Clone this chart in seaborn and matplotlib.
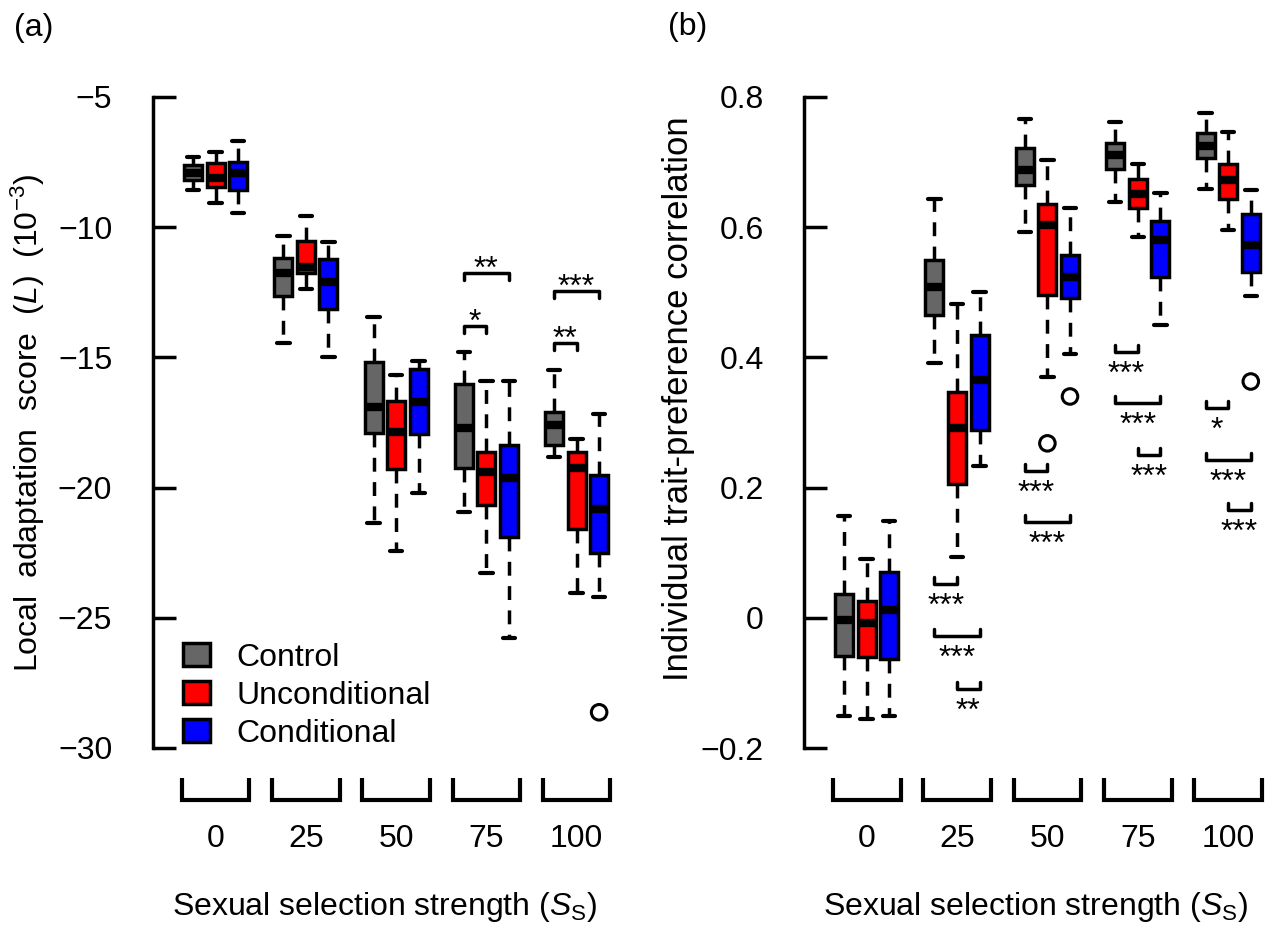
import numpy as np
import pandas as pd
import matplotlib
matplotlib.use("Agg")
import matplotlib.pyplot as plt
import matplotlib.transforms as mtransforms
from matplotlib.patches import Patch
from matplotlib import font_manager
import seaborn as sns

# ---------------- data ----------------
groups = ["0", "25", "50", "75", "100"]
treatments = ["Control", "Unconditional", "Conditional"]
colors = ["#666666", "#FF0000", "#0000FF"]

# five-number summaries [lower whisker, Q1, median, Q3, upper whisker], one per group
la_control = [[-8.57, -8.19, -7.92, -7.61, -7.30],
              [-14.46, -12.66, -11.77, -11.17, -10.33],
              [-21.37, -17.92, -16.89, -15.16, -13.46],
              [-20.95, -19.26, -17.72, -16.02, -14.78],
              [-18.81, -18.36, -17.60, -17.08, -15.48]]
la_uncond = [[-9.07, -8.46, -8.10, -7.55, -7.11],
             [-12.38, -11.75, -11.52, -10.53, -9.57],
             [-22.42, -19.29, -17.85, -16.66, -15.68],
             [-23.27, -20.67, -19.39, -18.62, -15.89],
             [-24.03, -21.60, -19.26, -18.62, -18.15]]
la_cond = [[-9.44, -8.57, -7.93, -7.48, -6.68],
           [-15.00, -13.13, -12.09, -11.23, -10.58],
           [-20.22, -17.95, -16.70, -15.46, -15.14],
           [-25.76, -21.88, -19.64, -18.36, -15.89],
           [-24.19, -22.52, -20.84, -19.52, -17.17]]
la_out_group = [4]
la_out_treat = [2]
la_out_value = [-28.63]

tc_control = [[-0.151, -0.058, -0.004, 0.036, 0.156],
              [0.391, 0.465, 0.508, 0.549, 0.643],
              [0.593, 0.665, 0.688, 0.721, 0.766],
              [0.638, 0.690, 0.711, 0.730, 0.761],
              [0.658, 0.707, 0.725, 0.744, 0.775]]
tc_uncond = [[-0.156, -0.060, -0.008, 0.026, 0.091],
             [0.093, 0.206, 0.292, 0.347, 0.482],
             [0.370, 0.496, 0.603, 0.636, 0.703],
             [0.585, 0.630, 0.651, 0.674, 0.697],
             [0.595, 0.644, 0.672, 0.697, 0.746]]
tc_cond = [[-0.151, -0.064, 0.012, 0.071, 0.149],
           [0.233, 0.288, 0.366, 0.434, 0.501],
           [0.405, 0.491, 0.524, 0.557, 0.629],
           [0.450, 0.523, 0.581, 0.610, 0.653],
           [0.494, 0.531, 0.573, 0.621, 0.657]]
tc_out_group = [2, 2, 4]
tc_out_treat = [1, 2, 2]
tc_out_value = [0.268, 0.340, 0.363]

la_ticks = [-30, -25, -20, -15, -10, -5]
la_ticklabels = ["\u221230", "\u221225", "\u221220", "\u221215", "\u221210", "\u22125"]
tc_ticks = [-0.2, 0.0, 0.2, 0.4, 0.6, 0.8]
tc_ticklabels = ["\u22120.2", "0", "0.2", "0.4", "0.6", "0.8"]

# significance annotations: group index, treatment pair, bracket level, label
sig_a_group = [3, 3, 4, 4]
sig_a_pair = [(0, 2), (0, 1), (0, 2), (0, 1)]
sig_a_level = [-11.77, -13.79, -12.45, -14.46]
sig_a_label = ["**", "*", "***", "**"]

sig_b_group = [1, 1, 1, 2, 2, 3, 3, 3, 4, 4, 4]
sig_b_pair = [(0, 1), (0, 2), (1, 2), (0, 1), (0, 2), (0, 1), (0, 2), (1, 2),
              (0, 1), (0, 2), (1, 2)]
sig_b_level = [0.0515, -0.0284, -0.1089, 0.2256, 0.1472, 0.4085, 0.330, 0.2497,
               0.323, 0.243, 0.1652]
sig_b_label = ["***", "***", "**", "***", "***", "***", "***", "***", "*", "***", "***"]

# ---------------- style ----------------
sns.set_style("white")
plt.rcParams["font.family"] = ["Liberation Sans", "DejaVu Sans"]
plt.rcParams["mathtext.fontset"] = "custom"
plt.rcParams["mathtext.rm"] = "Liberation Sans"
plt.rcParams["mathtext.it"] = "Liberation Sans:italic"
plt.rcParams["mathtext.bf"] = "Liberation Sans:bold"
for key in ["text.color", "axes.labelcolor", "xtick.color", "ytick.color"]:
    plt.rcParams[key] = "black"

names = {f.name for f in font_manager.fontManager.ttflist}
narrow = "Liberation Sans Narrow" if "Liberation Sans Narrow" in names else None

FS = 23
LW = 2.5
W, H = 1275, 934
fig = plt.figure(figsize=(W / 100, H / 100), dpi=100)


def add_axes_px(left, top, right, bottom):
    return fig.add_axes([left / W, 1 - bottom / H, (right - left) / W, (bottom - top) / H])


def pos_of(g, t):
    return 4 * g + t


def build_df(ctrl, unc, cond):
    rows = []
    for t, summ in enumerate([ctrl, unc, cond]):
        for g, five in enumerate(summ):
            for v in five:
                rows.append({"pos": pos_of(g, t), "value": v, "treatment": treatments[t]})
    return pd.DataFrame(rows)


def draw_panel(ax, df, out_g, out_t, out_v, xlim, ylim, ticks, ticklabels,
               sig_group, sig_pair, sig_level, sig_label, above):
    sns.boxplot(data=df, x="pos", y="value", hue="treatment", hue_order=treatments,
                palette=colors, native_scale=True, dodge=False, width=0.8,
                whis=(0, 100), saturation=1, linewidth=LW, linecolor="black",
                showfliers=False, legend=False, ax=ax, capwidths=0.55,
                medianprops=dict(color="black", linewidth=6.0, solid_capstyle="butt"),
                whiskerprops=dict(color="black", linewidth=LW, linestyle=(0, (4.0, 3.0))),
                capprops=dict(color="black", linewidth=3.0),
                boxprops=dict(edgecolor="black", linewidth=LW))
    ox = [pos_of(g, t) for g, t in zip(out_g, out_t)]
    sns.scatterplot(x=ox, y=out_v, ax=ax, marker="o", s=125, facecolor="none",
                    edgecolor="black", linewidth=2.2, zorder=5)
    ax.set_xlim(*xlim)
    ax.set_ylim(*ylim)
    sns.despine(ax=ax, bottom=True)
    ax.spines["left"].set_bounds(ticks[0], ticks[-1])
    ax.spines["left"].set_linewidth(LW)
    ax.spines["left"].set_color("black")
    ax.set_yticks(ticks)
    ax.set_yticklabels(ticklabels)
    ax.tick_params(axis="y", direction="in", length=16.5, width=LW, pad=29,
                   labelsize=FS, color="black", left=True)
    ax.set_xticks([pos_of(g, 1) for g in range(len(groups))])
    ax.set_xticklabels(groups)
    ax.tick_params(axis="x", length=0, pad=32, labelsize=FS)
    ax.set_xlabel("")
    ax.set_ylabel("")

    # group brackets along the x axis
    trans = mtransforms.blended_transform_factory(ax.transData, ax.transAxes)
    for g in range(len(groups)):
        x0, x1 = pos_of(g, 0) - 0.5, pos_of(g, 2) + 0.5
        ax.plot([x0, x0, x1, x1], [0.001, -0.0285, -0.0285, 0.001], transform=trans,
                color="black", lw=3.0, clip_on=False, solid_joinstyle="miter",
                solid_capstyle="butt")

    # significance brackets
    ax_h_px = ax.get_position().height * H
    d = 7 * (ylim[1] - ylim[0]) / ax_h_px
    sign = -1 if above else 1
    toff = 12 if above else -14
    ttrans = mtransforms.offset_copy(ax.transData, fig=fig, x=0, y=toff - 17, units="dots")
    for g, (t0, t1), lev, lab in zip(sig_group, sig_pair, sig_level, sig_label):
        x0, x1 = pos_of(g, t0), pos_of(g, t1)
        ax.plot([x0, x0, x1, x1], [lev + sign * d, lev, lev, lev + sign * d],
                color="black", lw=LW, solid_joinstyle="round", zorder=4)
        ax.text((x0 + x1) / 2, lev, lab, transform=ttrans, ha="center", va="baseline",
                fontsize=FS)


xlabel = "Sexual selection strength ($\\mathit{S}_{\\mathrm{S}}$)"

# panel (a)
ax_a = add_axes_px(152.5, 65.75, 616.5, 779.2)
df_a = build_df(la_control, la_uncond, la_cond)
draw_panel(ax_a, df_a, la_out_group, la_out_treat, la_out_value, (-1.8, 18.77),
           (-31.2, -3.8), la_ticks, la_ticklabels, sig_a_group, sig_a_pair,
           sig_a_level, sig_a_label, above=True)
ax_a.set_ylabel("Local  adaptation  score  ($\\mathit{L}$)  (10$^{\\mathrm{\u22123}}$)",
                fontsize=FS)
ax_a.yaxis.label.set_va("center")
ax_a.yaxis.set_label_coords(-0.269, 0.499)
ax_a.set_xlabel(xlabel, fontsize=FS)
ax_a.xaxis.label.set_va("center")
ax_a.xaxis.set_label_coords(0.5, -0.179)
handles = [Patch(facecolor=c, edgecolor="black", linewidth=LW) for c in colors]
ax_a.legend(handles, treatments, loc="lower left", bbox_to_anchor=(0.0647, 0.043),
            frameon=False, borderpad=0, borderaxespad=0, handlelength=0.85,
            handleheight=0.72, handletextpad=0.85, labelspacing=0.25, fontsize=FS)

# panel (b)
ax_b = add_axes_px(804, 65.75, 1268.2, 779.2)
df_b = build_df(tc_control, tc_uncond, tc_cond)
draw_panel(ax_b, df_b, tc_out_group, tc_out_treat, tc_out_value, (-1.77, 18.77),
           (-0.2479, 0.848), tc_ticks, tc_ticklabels, sig_b_group, sig_b_pair,
           sig_b_level, sig_b_label, above=False)
if narrow:
    ax_b.set_ylabel("Individual trait-preference correlation", fontsize=28,
                    family=[narrow, "DejaVu Sans"])
else:
    ax_b.set_ylabel("Individual trait-preference correlation", fontsize=25)
ax_b.yaxis.label.set_va("center")
ax_b.yaxis.set_label_coords(-0.2714, 0.534)
ax_b.set_xlabel(xlabel, fontsize=FS)
ax_b.xaxis.label.set_va("center")
ax_b.xaxis.set_label_coords(0.4977, -0.179)

fig.text(34 / W, 1 - 28 / H, "(a)", fontsize=FS, ha="center", va="center")
fig.text(688 / W, 1 - 27 / H, "(b)", fontsize=FS, ha="center", va="center")

fig.savefig("out.png", dpi=100)
